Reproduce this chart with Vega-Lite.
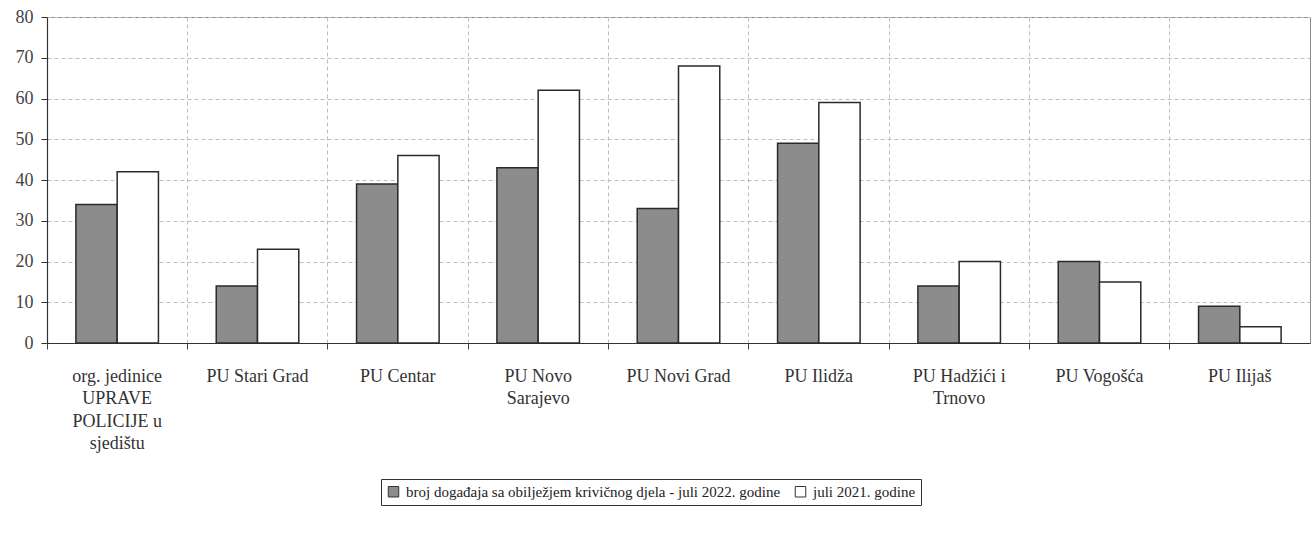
{
  "$schema": "https://vega.github.io/schema/vega-lite/v6.json",
  "width": 1263,
  "height": 326,
  "autosize": {"type": "none"},
  "padding": {"left": 47, "top": 17, "right": 6, "bottom": 192},
  "background": "white",
  "config": {
    "view": {"stroke": "#8a8a8a", "strokeWidth": 1},
    "font": "Liberation Serif"
  },
  "data": {
    "values": [
      {"unit": "org. jedinice UPRAVE POLICIJE u sjedištu", "series": "broj događaja sa obilježjem krivičnog djela - juli 2022. godine", "value": 34},
      {"unit": "org. jedinice UPRAVE POLICIJE u sjedištu", "series": "juli 2021. godine", "value": 42},
      {"unit": "PU Stari Grad", "series": "broj događaja sa obilježjem krivičnog djela - juli 2022. godine", "value": 14},
      {"unit": "PU Stari Grad", "series": "juli 2021. godine", "value": 23},
      {"unit": "PU Centar", "series": "broj događaja sa obilježjem krivičnog djela - juli 2022. godine", "value": 39},
      {"unit": "PU Centar", "series": "juli 2021. godine", "value": 46},
      {"unit": "PU Novo Sarajevo", "series": "broj događaja sa obilježjem krivičnog djela - juli 2022. godine", "value": 43},
      {"unit": "PU Novo Sarajevo", "series": "juli 2021. godine", "value": 62},
      {"unit": "PU Novi Grad", "series": "broj događaja sa obilježjem krivičnog djela - juli 2022. godine", "value": 33},
      {"unit": "PU Novi Grad", "series": "juli 2021. godine", "value": 68},
      {"unit": "PU Ilidža", "series": "broj događaja sa obilježjem krivičnog djela - juli 2022. godine", "value": 49},
      {"unit": "PU Ilidža", "series": "juli 2021. godine", "value": 59},
      {"unit": "PU Hadžići i Trnovo", "series": "broj događaja sa obilježjem krivičnog djela - juli 2022. godine", "value": 14},
      {"unit": "PU Hadžići i Trnovo", "series": "juli 2021. godine", "value": 20},
      {"unit": "PU Vogošća", "series": "broj događaja sa obilježjem krivičnog djela - juli 2022. godine", "value": 20},
      {"unit": "PU Vogošća", "series": "juli 2021. godine", "value": 15},
      {"unit": "PU Ilijaš", "series": "broj događaja sa obilježjem krivičnog djela - juli 2022. godine", "value": 9},
      {"unit": "PU Ilijaš", "series": "juli 2021. godine", "value": 4}
    ]
  },
  "resolve": {"axis": {"x": "independent"}},
  "layer": [
    {
      "mark": {"type": "bar", "opacity": 0},
      "encoding": {
        "x": {
          "field": "unit", "type": "nominal", "sort": null,
          "scale": {"paddingInner": 0, "paddingOuter": 0},
          "axis": {
            "orient": "bottom", "title": null, "labels": false, "domain": false,
            "ticks": true, "tickSize": 6, "tickColor": "#444", "tickWidth": 1,
            "bandPosition": 0,
            "grid": true, "gridColor": "#bdbdbd", "gridDash": [4, 3], "gridWidth": 1
          }
        },
        "y": {"field": "value", "type": "quantitative"}
      }
    },
    {
      "mark": {"type": "bar", "stroke": "#2a2a2a", "strokeWidth": 1.5},
      "encoding": {
        "x": {
          "field": "unit", "type": "nominal", "sort": null,
          "scale": {"paddingInner": 0, "paddingOuter": 0},
          "axis": {
            "orient": "bottom", "title": null, "labelAngle": 0, "ticks": false, "tickSize": 0,
            "domain": true, "domainColor": "#333", "domainWidth": 1.2,
            "grid": false,
            "labelFont": "Liberation Serif", "labelFontSize": 18, "labelColor": "#333",
            "labelPadding": 24, "labelBaseline": "top", "labelLineHeight": 22.5, "labelLimit": 0,
            "labelExpr": "datum.value == 'org. jedinice UPRAVE POLICIJE u sjedištu' ? ['org. jedinice','UPRAVE','POLICIJE u','sjedištu'] : datum.value == 'PU Novo Sarajevo' ? ['PU Novo','Sarajevo'] : datum.value == 'PU Hadžići i Trnovo' ? ['PU Hadžići i','Trnovo'] : datum.value"
          }
        },
        "xOffset": {
          "field": "series", "type": "nominal",
          "scale": {"paddingOuter": 0.7, "paddingInner": 0}
        },
        "y": {
          "field": "value", "type": "quantitative",
          "scale": {"domain": [0, 80], "nice": false},
          "axis": {
            "title": null, "values": [0, 10, 20, 30, 40, 50, 60, 70, 80],
            "grid": true, "gridColor": "#bdbdbd", "gridDash": [4, 3], "gridWidth": 1,
            "domain": true, "domainColor": "#333", "domainWidth": 1.2,
            "ticks": true, "tickSize": 6, "tickColor": "#333",
            "labelFont": "Liberation Serif", "labelFontSize": 18, "labelColor": "#444",
            "labelPadding": 8
          }
        },
        "color": {
          "field": "series", "type": "nominal",
          "scale": {
            "domain": ["broj događaja sa obilježjem krivičnog djela - juli 2022. godine", "juli 2021. godine"],
            "range": ["#8c8c8c", "#ffffff"]
          },
          "legend": {
            "title": null, "orient": "none", "legendX": 334, "legendY": 462,
            "direction": "horizontal", "strokeColor": "#333", "padding": 5,
            "symbolType": "square", "symbolSize": 110, "symbolStrokeColor": "#333", "symbolStrokeWidth": 1,
            "symbolOpacity": 1,
            "labelFont": "Liberation Serif", "labelFontSize": 15, "labelColor": "#222", "labelLimit": 0,
            "columnPadding": 12, "labelOffset": 5
          }
        }
      }
    }
  ]
}
